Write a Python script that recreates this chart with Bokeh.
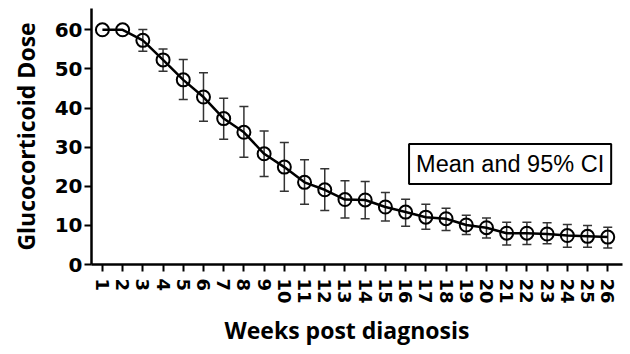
from bokeh.plotting import figure
from bokeh.models import ColumnDataSource, Whisker, TeeHead, Label, Title, FixedTicker, Range1d
from bokeh.embed import file_html
from bokeh.resources import INLINE

weeks = list(range(1, 27))
mean_dose = [60, 60, 57.3, 52.3, 47.2, 42.8, 37.3, 33.8, 28.3, 24.9, 21.0, 19.1, 16.6,
             16.5, 14.7, 13.4, 12.1, 11.7, 10.1, 9.4, 8.0, 8.0, 7.8, 7.4, 7.2, 7.0]
ci_upper = [60, 60, 60.1, 55.1, 52.4, 49.0, 42.5, 40.4, 34.1, 31.2, 26.8, 24.5, 21.4,
            21.2, 18.4, 16.7, 15.4, 14.4, 12.6, 11.9, 10.8, 10.8, 10.7, 10.2, 10.0, 9.5]
ci_lower = [60, 60, 54.5, 49.4, 42.2, 36.6, 32.0, 27.4, 22.5, 18.7, 15.4, 13.8, 11.9,
            11.7, 11.1, 9.8, 9.0, 8.7, 7.7, 6.8, 5.0, 5.1, 5.3, 4.4, 4.4, 4.2]
y_ticks = [0, 10, 20, 30, 40, 50, 60]

src = ColumnDataSource(dict(week=weeks, mean=mean_dose, upper=ci_upper, lower=ci_lower))
idx = [i for i in range(len(weeks)) if ci_upper[i] > ci_lower[i]]
wsrc = ColumnDataSource(dict(week=[weeks[i] for i in idx],
                             upper=[ci_upper[i] for i in idx],
                             lower=[ci_lower[i] for i in idx]))

p = figure(width=630, height=354, output_backend="svg", toolbar_location=None,
           x_range=Range1d(0.46, 26.73), y_range=Range1d(0, 65.44),
           min_border_left=91, min_border_right=8, min_border_top=8, min_border_bottom=90)
p.outline_line_color = None
p.grid.visible = False
p.background_fill_color = "white"

p.line("week", "mean", source=src, line_color="black", line_width=2.5)
wh = Whisker(source=wsrc, base="week", upper="upper", lower="lower",
             line_color="#333333", line_width=1.5,
             upper_head=TeeHead(size=9, line_color="#333333", line_width=1.5),
             lower_head=TeeHead(size=9, line_color="#333333", line_width=1.5))
p.add_layout(wh)
p.scatter("week", "mean", source=src, size=13, marker="circle", fill_color=None,
          line_color="black", line_width=2)

for ax in (p.xaxis[0], p.yaxis[0]):
    ax.axis_line_width = 2.5
    ax.axis_line_color = "black"
    ax.major_tick_line_width = 2
    ax.major_tick_line_color = "black"
    ax.major_tick_out = 7
    ax.major_tick_in = 0
    ax.minor_tick_line_color = None
    ax.major_label_text_font = "DejaVu Sans"
    ax.major_label_text_font_style = "bold"
    ax.major_label_text_color = "black"

p.xaxis.ticker = FixedTicker(ticks=weeks)
p.xaxis.major_label_orientation = "vertical"
p.xaxis.major_label_text_font_size = "18px"
p.xaxis.major_label_standoff = 7

p.yaxis.ticker = FixedTicker(ticks=y_ticks)
p.yaxis.major_label_text_font_size = "20px"
p.yaxis.major_label_standoff = 2
p.yaxis.axis_label = "Glucocorticoid Dose"
p.yaxis.axis_label_text_font = "Open Sans"
p.yaxis.axis_label_text_font_style = "bold"
p.yaxis.axis_label_text_font_size = "23px"
p.yaxis.axis_label_text_color = "black"
p.yaxis.axis_label_standoff = 10

xt = Title(text="Weeks post diagnosis", align="left", offset=133,
           text_font="Open Sans", text_font_style="bold", text_font_size="23px",
           text_color="black", standoff=10)
p.add_layout(xt, "below")

leg = Label(x=21.17, y=25.7, text="Mean and 95% CI", text_align="center",
            text_baseline="middle", text_font="Liberation Sans", text_font_size="23.5px",
            text_color="black", border_line_color="black", border_line_width=2,
            background_fill_color="white", padding=7)
p.add_layout(leg)

open("out.html", "w").write(file_html(p, INLINE))
